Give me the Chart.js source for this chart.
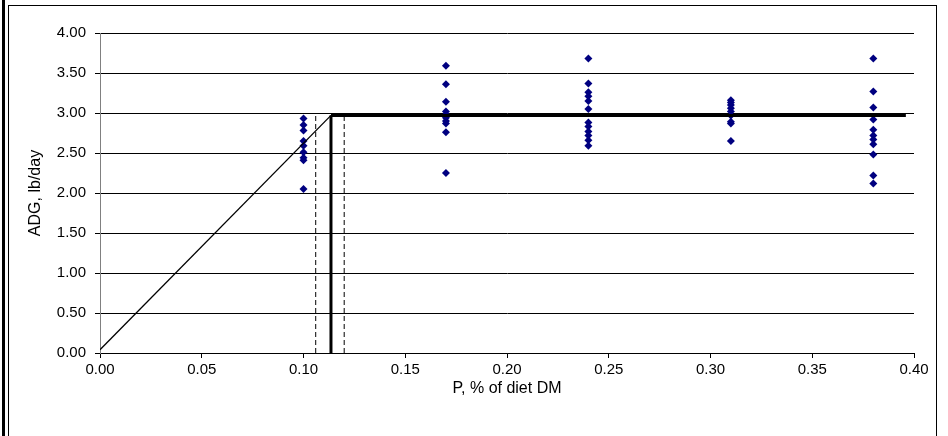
<!DOCTYPE html>
<html>
<head>
<meta charset="utf-8">
<script src="https://cdn.jsdelivr.net/npm/chart.js@4/dist/chart.umd.min.js"></script>
<style>
    body { margin: 0; background: #fff; }
    .wrap { position: relative; width: 948px; height: 436px; }
    canvas { position: absolute; left: 0; top: 0; }
    .frameOuter { position: absolute; left: 2px; top: 0; width: 3px; height: 436px; background: #000; }
    .frame { position: absolute; left: 8px; top: 5px; width: 929px; height: 440px; border: 1px solid #000; box-sizing: border-box; }
</style>
</head>
<body>
<div class="wrap">
    <canvas id="chart" width="948" height="436"></canvas>
    <div class="frameOuter"></div>
    <div class="frame"></div>
</div>
<script>
// P level (% of diet DM) for each group of observations
const pLevels = [0.10, 0.17, 0.24, 0.31, 0.38]
// ADG observations, lb/day, one array per P level
const adg010 = [2.93, 2.85, 2.78, 2.65, 2.59, 2.51, 2.44, 2.41, 2.05]
const adg017 = [3.59, 3.36, 3.14, 3.02, 2.98, 2.94, 2.90, 2.87, 2.76, 2.25]
const adg024 = [3.68, 3.37, 3.26, 3.21, 3.15, 3.05, 2.88, 2.83, 2.77, 2.72, 2.66, 2.59]
const adg031 = [3.16, 3.13, 3.10, 3.06, 3.02, 2.97, 2.89, 2.87, 2.65]
const adg038 = [3.68, 3.27, 3.07, 2.92, 2.79, 2.72, 2.67, 2.61, 2.48, 2.22, 2.12]

// broken-line model: slope up to the break point, then plateau
const breakP = 0.1135
const plateau = 2.97
const lineStart = [0, 0.04]
const lineEndP = 0.396
// confidence limits on the break point
const breakLow = 0.106
const breakHigh = 0.120

const xTicks = [0, 0.05, 0.10, 0.15, 0.20, 0.25, 0.30, 0.35, 0.40]
const yTicks = [0, 0.5, 1, 1.5, 2, 2.5, 3, 3.5, 4]

const groups = [adg010, adg017, adg024, adg031, adg038]
const points = []
groups.forEach((vals, i) => {
    vals.forEach((v) => points.push({ x: pLevels[i], y: v }))
})

const tickFont = { family: "'Liberation Sans', Arial, sans-serif", size: 15 }
const titleFont = { family: "'Liberation Sans', Arial, sans-serif", size: 16 }

new Chart(document.getElementById("chart"), {
    type: "scatter",
    data: {
        datasets: [
            {
                label: "slope",
                data: [{ x: lineStart[0], y: lineStart[1] }, { x: breakP, y: plateau }],
                showLine: true,
                borderColor: "#000",
                borderWidth: 1.3,
                pointRadius: 0,
            },
            {
                label: "plateau",
                data: [{ x: breakP, y: plateau }, { x: lineEndP, y: plateau }],
                showLine: true,
                borderColor: "#000",
                borderWidth: 3,
                pointRadius: 0,
            },
            {
                label: "break",
                data: [{ x: breakP, y: 0 }, { x: breakP, y: plateau }],
                showLine: true,
                borderColor: "#000",
                borderWidth: 3,
                pointRadius: 0,
            },
            {
                label: "low",
                data: [{ x: breakLow, y: 0 }, { x: breakLow, y: plateau }],
                showLine: true,
                borderColor: "#000",
                borderWidth: 1,
                borderDash: [5, 3],
                pointRadius: 0,
            },
            {
                label: "high",
                data: [{ x: breakHigh, y: 0 }, { x: breakHigh, y: plateau }],
                showLine: true,
                borderColor: "#000",
                borderWidth: 1,
                borderDash: [5, 3],
                pointRadius: 0,
            },
            {
                label: "ADG",
                data: points,
                pointStyle: "rectRot",
                pointRadius: 4,
                backgroundColor: "#000080",
                borderColor: "#000080",
                borderWidth: 0,
            },
        ],
    },
    options: {
        responsive: false,
        animation: false,
        layout: {
            padding: { left: 10, top: 33, right: 34, bottom: 0 },
        },
        plugins: {
            legend: { display: false },
            tooltip: { enabled: false },
        },
        scales: {
            x: {
                type: "linear",
                min: 0,
                max: 0.4,
                afterFit: (scale) => { scale.height = 83 },
                afterBuildTicks: (scale) => { scale.ticks = xTicks.map((v) => ({ value: v })) },
                ticks: {
                    color: "#000",
                    font: tickFont,
                    padding: 3,
                    maxRotation: 0,
                    callback: (value) => value.toFixed(2),
                },
                grid: {
                    display: true,
                    drawOnChartArea: false,
                    color: "#000",
                    tickLength: 5,
                },
                border: { color: "#000", width: 1 },
                title: {
                    display: true,
                    text: "P, % of diet DM",
                    color: "#000",
                    font: titleFont,
                    padding: { top: 0, bottom: 38 },
                },
            },
            y: {
                type: "linear",
                min: 0,
                max: 4,
                afterFit: (scale) => { scale.width = 90 },
                afterBuildTicks: (scale) => { scale.ticks = yTicks.map((v) => ({ value: v })) },
                ticks: {
                    color: "#000",
                    font: tickFont,
                    padding: 9,
                    callback: (value) => value.toFixed(2),
                },
                grid: {
                    color: "#000",
                    lineWidth: 1,
                    tickLength: 5,
                },
                border: { color: "#808080", width: 1 },
                title: {
                    display: true,
                    text: "ADG, lb/day",
                    color: "#000",
                    font: titleFont,
                    padding: { top: 16, bottom: 0 },
                },
            },
        },
    },
})
</script>
</body>
</html>
